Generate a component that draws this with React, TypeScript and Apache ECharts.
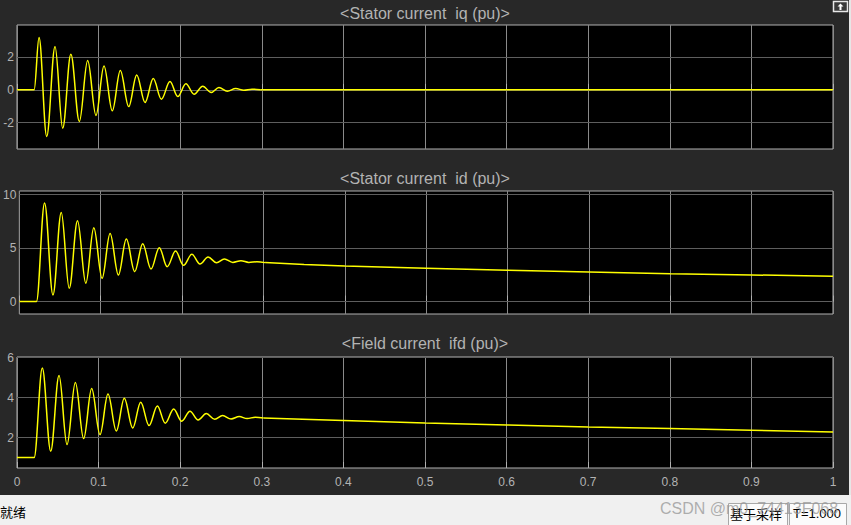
import React, { useEffect, useRef } from "react";
import * as echarts from "echarts";

// ---------- data ----------
const panelTitles = [
  "<Stator current  iq (pu)>",
  "<Stator current  id (pu)>",
  "<Field current  ifd (pu)>",
];

// Stator current iq: oscillating part (extrema) and tail
const iqOscTime = [0, 0.021, 0.027, 0.0364, 0.0466, 0.056, 0.066, 0.0764, 0.0866, 0.0968, 0.1066, 0.1168, 0.1266, 0.1369, 0.1467, 0.1569, 0.167, 0.1769, 0.1875, 0.197, 0.207, 0.217, 0.2276, 0.238, 0.2475, 0.2577, 0.268, 0.278, 0.288, 0.298];
const iqOscValue = [0, 0, 3.19, -2.84, 2.64, -2.34, 2.17, -1.93, 1.79, -1.56, 1.46, -1.28, 1.18, -1.02, 0.91, -0.77, 0.69, -0.57, 0.51, -0.41, 0.37, -0.26, 0.22, -0.16, 0.14, -0.08, 0.08, -0.02, 0.04, 0.01];
const iqTailTime = [0.298, 0.4, 0.6, 0.8, 1.0];
const iqTailValue = [0.01, 0.01, 0.0, 0.0, 0.0];

// Stator current id
const idOscTime = [0, 0.021, 0.031, 0.0413, 0.0515, 0.0613, 0.0715, 0.0817, 0.0915, 0.1017, 0.1115, 0.1217, 0.1315, 0.1418, 0.1516, 0.1618, 0.172, 0.1817, 0.192, 0.2018, 0.212, 0.222, 0.232, 0.2423, 0.252, 0.2623, 0.2724, 0.282, 0.292, 0.302];
const idOscValue = [0, 0, 9.22, 0.62, 8.32, 1.24, 7.55, 1.71, 6.89, 2.17, 6.37, 2.48, 5.84, 2.8, 5.4, 3.04, 5.03, 3.26, 4.72, 3.39, 4.41, 3.51, 4.16, 3.63, 3.98, 3.66, 3.82, 3.66, 3.72, 3.64];
const idTailTime = [0.302, 0.35, 0.4, 0.5, 0.6, 0.7, 0.8, 0.9, 1.0];
const idTailValue = [3.64, 3.47, 3.32, 3.11, 2.92, 2.77, 2.61, 2.49, 2.36];

// Field current ifd
const ifdOscTime = [0, 0.021, 0.031, 0.0413, 0.0515, 0.0613, 0.0715, 0.0817, 0.0915, 0.1017, 0.1115, 0.1217, 0.1315, 0.1418, 0.1516, 0.1618, 0.172, 0.1817, 0.192, 0.2018, 0.212, 0.222, 0.232, 0.2423, 0.252, 0.2623, 0.2724, 0.282, 0.292, 0.302];
const ifdOscValue = [1.0, 1.0, 5.48, 1.32, 5.1, 1.65, 4.75, 1.95, 4.45, 2.15, 4.18, 2.33, 3.97, 2.48, 3.77, 2.6, 3.58, 2.72, 3.43, 2.82, 3.32, 2.88, 3.2, 2.92, 3.1, 2.93, 3.05, 2.95, 3.02, 2.98];
const ifdTailTime = [0.302, 0.35, 0.4, 0.5, 0.6, 0.7, 0.8, 0.9, 1.0];
const ifdTailValue = [2.98, 2.92, 2.85, 2.73, 2.63, 2.53, 2.45, 2.37, 2.28];

// y tick labels and y ranges
const iqTicks = [-2, 0, 2];
const idTicks = [0, 5, 10];
const ifdTicks = [2, 4, 6];
const iqRange = [-3.61, 3.96];
const idRange = [-1.16, 10.33];
const ifdRange = [0.48, 6.03];

// status bar texts
const statusLeft = "就绪";
const statusMode = "基于采样";
const statusTime = "T=1.000";
const watermark = "CSDN @m0_74413F068";

// ---------- component ----------
const FONT = "'Liberation Sans', Arial, Helvetica, sans-serif";
const TXT = "#b3b3b3";
const YELLOW = "#ffff00";

function zip(t: number[], v: number[]) {
  return t.map((x, i) => [x, v[i]]);
}

export default function App() {
  const ref = useRef<HTMLDivElement>(null);

  useEffect(() => {
    document.body.style.margin = "0";
    if (!ref.current) return;
    const chart = echarts.init(ref.current, null, { renderer: "svg" });

    const grids = [
      { left: 17, top: 25, width: 816, height: 124 },
      { left: 17, top: 191, width: 816, height: 123 },
      { left: 17, top: 357, width: 816, height: 111 },
    ];
    const ticks = [iqTicks, idTicks, ifdTicks];
    const ranges = [iqRange, idRange, ifdRange];
    const osc = [zip(iqOscTime, iqOscValue), zip(idOscTime, idOscValue), zip(ifdOscTime, ifdOscValue)];
    const tails = [zip(iqTailTime, iqTailValue), zip(idTailTime, idTailValue), zip(ifdTailTime, ifdTailValue)];
    const titleY = [13.5, 178.5, 343.5];

    const series: any[] = [];
    for (let i = 0; i < 3; i++) {
      series.push({
        type: "line",
        xAxisIndex: i,
        yAxisIndex: i,
        data: osc[i],
        smooth: 0.36,
        smoothMonotone: "x",
        symbol: "none",
        showSymbol: false,
        lineStyle: { color: YELLOW, width: 1.5 },
        silent: true,
        z: 3,
        markLine: {
          silent: true,
          z: 1,
          symbol: ["none", "none"],
          label: { show: false },
          lineStyle: { color: "#5e5e5e", type: "solid", width: 1 },
          emphasis: { disabled: true },
          data: ticks[i].map((v) => ({ yAxis: v })),
        },
      });
      series.push({
        type: "line",
        xAxisIndex: i,
        yAxisIndex: i,
        data: tails[i],
        smooth: false,
        symbol: "none",
        showSymbol: false,
        lineStyle: { color: YELLOW, width: 1.5 },
        silent: true,
        z: 3,
      });
    }

    const graphics: any[] = [];
    panelTitles.forEach((t, i) => {
      graphics.push({
        type: "text",
        x: 425,
        y: titleY[i],
        style: {
          text: t,
          fill: TXT,
          fontSize: 16,
          fontFamily: FONT,
          textAlign: "center",
          textVerticalAlign: "middle",
          align: "center",
          verticalAlign: "middle",
        },
      });
    });
    // right edge strip
    graphics.push({ type: "rect", shape: { x: 849, y: 0, width: 2, height: 495 }, style: { fill: "#e6e6e6" } });
    // undock icon
    graphics.push({ type: "rect", shape: { x: 833.5, y: 1.5, width: 14, height: 10 }, style: { fill: "#3a3a3a", stroke: "#e8e8e8", lineWidth: 1.5 } });
    graphics.push({
      type: "polygon",
      shape: { points: [[837.5, 6.5], [840.5, 3.5], [843.5, 6.5], [841.5, 6.5], [841.5, 10], [839.5, 10], [839.5, 6.5]] },
      style: { fill: "#ffffff" },
    });
    // status bar
    graphics.push({ type: "rect", shape: { x: 0, y: 495, width: 851, height: 30 }, style: { fill: "#f0f0f0" } });
    graphics.push({
      type: "text", x: 0, y: 511,
      style: { text: statusLeft, fill: "#000", fontSize: 13, fontFamily: "'Noto Sans CJK SC', sans-serif", textVerticalAlign: "middle", verticalAlign: "middle" },
    });
    graphics.push({ type: "rect", shape: { x: 728.5, y: 503.5, width: 59, height: 22 }, style: { fill: "#fbfbfb", stroke: "#a8a8a8", lineWidth: 1 } });
    graphics.push({ type: "rect", shape: { x: 789.5, y: 503.5, width: 57, height: 22 }, style: { fill: "#fbfbfb", stroke: "#a8a8a8", lineWidth: 1 } });
    graphics.push({
      type: "text", x: 756, y: 513,
      style: { text: statusMode, fill: "#000", fontSize: 13, fontFamily: "'Noto Sans CJK SC', sans-serif", textAlign: "center", align: "center", textVerticalAlign: "middle", verticalAlign: "middle" },
    });
    graphics.push({
      type: "text", x: 817, y: 513,
      style: { text: statusTime, fill: "#000", fontSize: 13, fontFamily: FONT, textAlign: "center", align: "center", textVerticalAlign: "middle", verticalAlign: "middle" },
    });
    graphics.push({
      type: "text", x: 660, y: 508, z: 100,
      style: { text: watermark, fill: "rgba(150,150,150,0.75)", fontSize: 16, fontFamily: FONT, textVerticalAlign: "middle", verticalAlign: "middle" },
    });

    chart.setOption({
      animation: false,
      backgroundColor: "#282828",
      grid: grids.map((g) => ({
        ...g,
        show: true,
        backgroundColor: "#000000",
        borderColor: "#b0b0b0",
        borderWidth: 1,
        containLabel: false,
      })),
      xAxis: [0, 1, 2].map((i) => ({
        type: "value",
        gridIndex: i,
        min: 0,
        max: 1,
        interval: 0.1,
        axisLine: { show: false },
        axisTick: { show: true, inside: true, length: 6, lineStyle: { color: "#b0b0b0" } },
        axisLabel: { show: i === 2, color: TXT, fontSize: 12, fontFamily: FONT, margin: 8 },
        splitLine: { show: true, lineStyle: { color: "#8a8a8a", width: 1 } },
      })),
      yAxis: [0, 1, 2].map((i) => ({
        type: "value",
        gridIndex: i,
        min: ranges[i][0],
        max: ranges[i][1],
        axisLine: { show: false },
        axisTick: { show: true, inside: true, length: 6, customValues: ticks[i], lineStyle: { color: "#b0b0b0" } },
        axisLabel: { customValues: ticks[i], color: TXT, fontSize: 12, fontFamily: FONT, margin: 3 },
        splitLine: { show: false },
      })),
      series,
      graphic: graphics,
    });

    return () => {
      chart.dispose();
    };
  }, []);

  return (
    <div
      ref={ref}
      style={{ position: "absolute", left: 0, top: 0, width: 851, height: 525 }}
    />
  );
}
